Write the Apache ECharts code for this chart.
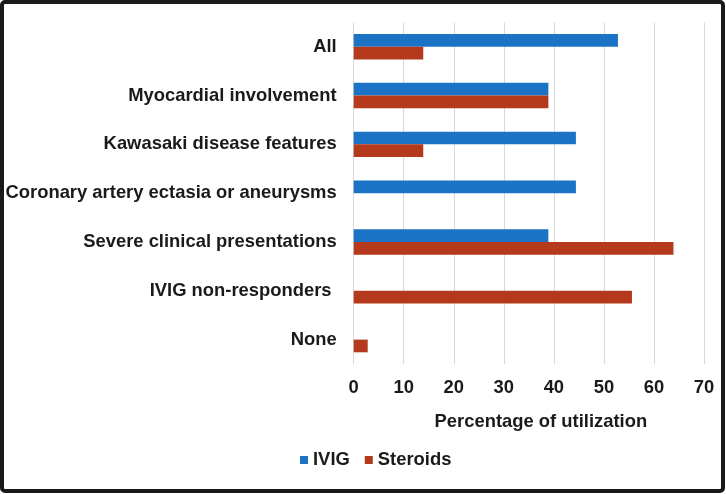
<!DOCTYPE html>
<html>
<head>
<meta charset="utf-8">
<script src="https://cdn.jsdelivr.net/npm/echarts@6/dist/echarts.min.js"></script>
<style>
html,body{margin:0;padding:0;background:#fff;}
#chart{width:726px;height:494px;}
</style>
</head>
<body>
<div id="chart"></div>
<script>
const categories = ["All", "Myocardial involvement", "Kawasaki disease features", "Coronary artery ectasia or aneurysms", "Severe clinical presentations", "IVIG non-responders ", "None"];
const ivig = [52.8, 38.9, 44.4, 44.4, 38.9, 0, 0];
const steroids = [13.9, 38.9, 13.9, 0, 63.9, 55.6, 2.8];
const xTicks = { min: 0, max: 70, interval: 10 };

const FONT = "'Liberation Sans', Arial, sans-serif";
const FS = 18.4;
const TXT = '#1a1a1a';
const chart = echarts.init(document.getElementById('chart'), null, { renderer: 'canvas' });
chart.setOption({
  animation: false,
  backgroundColor: '#fff',
  graphic: [{
    type: 'rect',
    shape: { x: 2, y: 2, width: 721, height: 489, r: 3 },
    style: { fill: 'none', stroke: TXT, lineWidth: 4 },
    z: 100
  }],
  grid: { left: 353.7, right: 22, top: 22.3, bottom: 130, containLabel: false },
  legend: {
    data: ['IVIG', 'Steroids'],
    left: 300, top: 451, padding: 0,
    icon: 'rect', itemWidth: 8, itemHeight: 8, itemGap: 15,
    textStyle: { fontFamily: FONT, fontSize: FS, fontWeight: 'bold', color: TXT }
  },
  xAxis: {
    type: 'value',
    min: xTicks.min, max: xTicks.max, interval: xTicks.interval,
    axisLine: { show: false }, axisTick: { show: false },
    splitLine: { show: true, lineStyle: { color: '#d9d9d9', width: 1 } },
    axisLabel: { fontFamily: FONT, fontSize: FS, fontWeight: 'bold', color: TXT, margin: 15 },
    name: 'Percentage of utilization',
    nameLocation: 'middle', nameGap: 49,
    nameTextStyle: { fontFamily: FONT, fontSize: FS, fontWeight: 'bold', color: TXT, padding: [0, 0, 0, 24] }
  },
  yAxis: {
    type: 'category', inverse: true, data: categories,
    axisLine: { show: false }, axisTick: { show: false },
    axisLabel: { fontFamily: FONT, fontSize: FS, fontWeight: 'bold', color: TXT, margin: 17 }
  },
  series: [
    { name: 'IVIG', type: 'bar', data: ivig, barWidth: 12.7, barGap: '0%', itemStyle: { color: '#1a73c4' } },
    { name: 'Steroids', type: 'bar', data: steroids, barWidth: 12.7, barGap: '0%', itemStyle: { color: '#b5391c' } }
  ]
});
</script>
</body>
</html>
